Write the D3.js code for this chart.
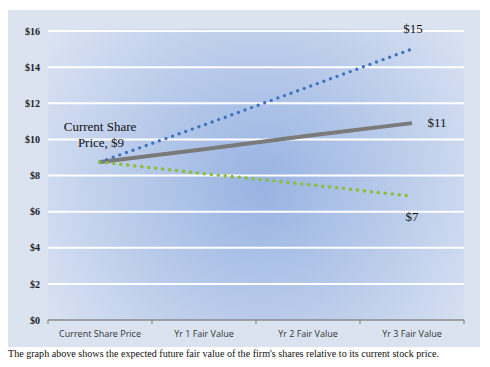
<!DOCTYPE html>
<html>
<head>
<meta charset="utf-8">
<script src="https://cdn.jsdelivr.net/npm/d3@7"></script>
<style>
  body { margin: 0; background: #fff; }
  svg { display: block; }
</style>
</head>
<body>
<svg id="grafico"></svg>
<script>
// dados
let categorias = ['Current Share Price', 'Yr 1 Fair Value', 'Yr 2 Fair Value', 'Yr 3 Fair Value'];
let valoresAlta = [8.75, 10.8, 12.9, 15.0];
let valoresBase = [8.75, 9.45, 10.2, 10.9];
let valoresBaixa = [8.75, 8.1, 7.5, 6.85];
let ticksY = [0, 2, 4, 6, 8, 10, 12, 14, 16];
let rotulos = ['$15', '$11', '$7'];

let largura = 490, altura = 367;
let svg = d3.select('#grafico')
            .attr('width', largura)
            .attr('height', altura);

let margem = {esq: 48, dir: 464, topo: 31, base: 320};

let defs = svg.append('defs');
let grad = defs.append('radialGradient')
  .attr('id', 'fundo')
  .attr('gradientUnits', 'userSpaceOnUse')
  .attr('cx', 262).attr('cy', 185).attr('r', 290);
grad.append('stop').attr('offset', 0).attr('stop-color', '#98b3e2');
grad.append('stop').attr('offset', 0.55).attr('stop-color', '#c0d0ec');
grad.append('stop').attr('offset', 1).attr('stop-color', '#e3e9f5');

// painel externo
svg.append('rect')
  .attr('x', 8).attr('y', 10)
  .attr('width', 472).attr('height', 337)
  .attr('fill', '#dbe3f1');

svg.append('rect')
  .attr('x', margem.esq).attr('y', margem.topo - 2)
  .attr('width', margem.dir - margem.esq).attr('height', margem.base - margem.topo + 2)
  .attr('fill', 'url(#fundo)');

let fnX = d3.scaleBand()
            .domain(categorias)
            .range([margem.esq, margem.dir]);

let fnY = d3.scaleLinear()
            .domain([0, 16])
            .range([margem.base, margem.topo]);

// linhas de grade
svg.selectAll('.grade')
  .data(ticksY.filter(d => d > 0))
  .enter()
  .append('line')
  .classed('grade', true)
  .attr('x1', margem.esq).attr('x2', margem.dir)
  .attr('y1', d => fnY(d)).attr('y2', d => fnY(d))
  .attr('stroke', '#ffffff')
  .attr('stroke-width', 2);

// eixo Y
let eixoY = d3.axisLeft(fnY).tickValues(ticksY).tickSize(0).tickPadding(8)
  .tickFormat(d => '$' + d);
let gY = svg.append('g')
  .attr('transform', 'translate(' + margem.esq + ',0)')
  .call(eixoY);
gY.select('.domain').remove();
gY.selectAll('text')
  .attr('font-family', '"Liberation Serif", "Times New Roman", serif')
  .attr('font-weight', 'bold')
  .attr('font-size', '10px')
  .attr('fill', '#222');

// eixo X
let eixoX = d3.axisBottom(fnX).tickSize(0).tickPadding(11);
let gX = svg.append('g')
  .attr('transform', 'translate(0,' + margem.base + ')')
  .call(eixoX);
gX.select('.domain').attr('stroke', '#8a8a8a').attr('stroke-width', 1.5)
  .attr('d', 'M' + margem.esq + ',0H' + margem.dir);
gX.selectAll('text')
  .attr('font-family', '"Open Sans", "DejaVu Sans", sans-serif')
  .attr('font-size', '9px')
  .attr('fill', '#333');

// marcas de divisao
let divisoes = categorias.map(c => fnX(c)).concat([margem.dir]);
svg.selectAll('.divisao')
  .data(divisoes)
  .enter()
  .append('line')
  .classed('divisao', true)
  .attr('x1', d => d).attr('x2', d => d)
  .attr('y1', margem.base).attr('y2', margem.base + 4)
  .attr('stroke', '#8a8a8a')
  .attr('stroke-width', 1.2);

let fnLinha = d3.line()
  .x((d, i) => fnX(categorias[i]) + fnX.bandwidth() / 2)
  .y(d => fnY(d));

svg.append('path')
  .datum(valoresBase)
  .attr('d', fnLinha)
  .attr('fill', 'none')
  .attr('stroke', '#7a7a7a')
  .attr('stroke-width', 4);

svg.append('path')
  .datum(valoresAlta)
  .attr('d', fnLinha)
  .attr('fill', 'none')
  .attr('stroke', '#3e73bf')
  .attr('stroke-width', 3.4)
  .attr('stroke-linecap', 'round')
  .attr('stroke-dasharray', '0,7');

svg.append('path')
  .datum(valoresBaixa)
  .attr('d', fnLinha)
  .attr('fill', 'none')
  .attr('stroke', '#8cbd3e')
  .attr('stroke-width', 3.6)
  .attr('stroke-linecap', 'round')
  .attr('stroke-dasharray', '0,7');

// rotulos
let fonteSerif = '"Liberation Serif", "Times New Roman", serif';
let xFim = fnX(categorias[3]) + fnX.bandwidth() / 2;
let xIni = fnX(categorias[0]) + fnX.bandwidth() / 2;

let anot = svg.append('text')
  .attr('font-family', fonteSerif)
  .attr('font-size', '13px')
  .attr('fill', '#111')
  .attr('text-anchor', 'middle');
anot.append('tspan').attr('x', xIni).attr('y', fnY(valoresAlta[0]) - 31).text('Current Share');
anot.append('tspan').attr('x', xIni + 1).attr('y', fnY(valoresAlta[0]) - 15).text('Price, $9');

svg.append('text')
  .attr('x', xFim + 1).attr('y', fnY(valoresAlta[3]) - 16)
  .attr('font-family', fonteSerif).attr('font-size', '13px')
  .attr('text-anchor', 'middle').attr('fill', '#111')
  .text(rotulos[0]);

svg.append('text')
  .attr('x', xFim + 25).attr('y', fnY(valoresBase[3]) + 4)
  .attr('font-family', fonteSerif).attr('font-size', '13px')
  .attr('text-anchor', 'middle').attr('fill', '#111')
  .text(rotulos[1]);

svg.append('text')
  .attr('x', xFim).attr('y', fnY(valoresBaixa[3]) + 25)
  .attr('font-family', fonteSerif).attr('font-size', '13px')
  .attr('text-anchor', 'middle').attr('fill', '#111')
  .text(rotulos[2]);

svg.append('text')
  .attr('x', 8).attr('y', 357)
  .attr('font-family', fonteSerif).attr('font-size', '10.1px')
  .attr('fill', '#111')
  .text("The graph above shows the expected future fair value of the firm's shares relative to its current stock price.");
</script>
</body>
</html>
